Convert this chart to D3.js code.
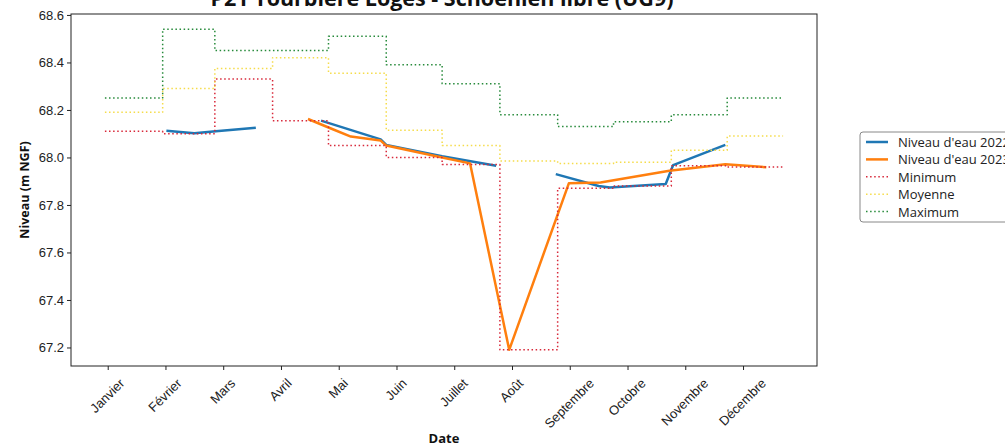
<!DOCTYPE html>
<html>
<head>
<meta charset="utf-8">
<style>
  body { margin: 0; background: #fff; }
  svg { font-family: "Open Sans", "DejaVu Sans", sans-serif; display: block; }
  .axis text { fill: #222; font-size: 13px; }
  .axis path, .axis line { stroke: #222; }
</style>
</head>
<body>
<div id="chart"></div>
<script src="https://cdn.jsdelivr.net/npm/d3@7"></script>
<script>

// month names on the x axis and the day of year each tick sits on
var monthLabels = ["Janvier", "Février", "Mars", "Avril", "Mai", "Juin",
  "Juillet", "Août", "Septembre", "Octobre", "Novembre", "Décembre"];
var tickDays = [2.5, 33.5, 64.5, 95.5, 126.5, 157.5, 188.5, 219.5, 250.5, 281.5, 312.5, 343.5];

// first day of each month (+ end of year) for the monthly statistics
var monthStart = [1, 32, 60, 91, 121, 152, 182, 213, 244, 274, 305, 335, 365];

var minimum = [68.11, 68.10, 68.33, 68.155, 68.05, 68.00, 67.97, 67.19, 67.87, 67.88, 67.965, 67.96];
var moyenne = [68.19, 68.29, 68.375, 68.42, 68.355, 68.115, 68.05, 67.985, 67.975, 67.98, 68.03, 68.09];
var maximum = [68.25, 68.54, 68.45, 68.45, 68.51, 68.39, 68.31, 68.18, 68.13, 68.15, 68.18, 68.25];

// water level readings: day of year, level (null = no data)
var days2022 = [34, 49, 59, 82, 100, 117, 149, 152, 182, 211, 230, 243, 266, 272, 302, 306, 334];
var level2022 = [68.112, 68.102, 68.109, 68.125, null, 68.155, 68.076, 68.053, 68.005, 67.965, null,
  67.93, 67.88, 67.874, 67.888, 67.968, 68.053];

var days2023 = [110, 122, 133, 149, 152, 182, 197, 218, 250, 267, 304, 334, 356];
var level2023 = [68.162, 68.123, 68.088, 68.071, 68.05, 68.0, 67.975, 67.19, 67.891, 67.895,
  67.944, 67.971, 67.959];

var W = 1005, H = 446;
var margin = {top: 14, right: 188, bottom: 80, left: 71},
    width = W - margin.left - margin.right,
    height = H - margin.top - margin.bottom;

var svg = d3.select("#chart").append("svg")
    .attr("width", W)
    .attr("height", H);

var g = svg.append("g")
    .attr("transform", "translate(" + margin.left + "," + margin.top + ")");

var x = d3.scaleLinear().domain([-17.2, 383.2]).range([0, width]);
var y = d3.scaleLinear().domain([67.122, 68.604]).range([height, 0]);

function zip(xs, ys) {
  return xs.map(function(d, i) { return {x: d, y: ys[i]}; });
}

var line = d3.line()
    .defined(function(d) { return d.y != null; })
    .x(function(d) { return x(d.x); })
    .y(function(d) { return y(d.y); });

var stepLine = d3.line()
    .curve(d3.curveStepAfter)
    .x(function(d) { return x(d.x); })
    .y(function(d) { return y(d.y); });

function stepData(vals) {
  var pts = vals.map(function(v, i) { return {x: monthStart[i], y: v}; });
  pts.push({x: monthStart[monthStart.length - 1], y: vals[vals.length - 1]});
  return pts;
}

var series = [
  {name: "Niveau d'eau 2022", color: "#1f77b4", solid: true, data: zip(days2022, level2022)},
  {name: "Niveau d'eau 2023", color: "#ff7f0e", solid: true, data: zip(days2023, level2023)},
  {name: "Minimum", color: "#d8283a", solid: false, data: stepData(minimum)},
  {name: "Moyenne", color: "#f5dc4a", solid: false, data: stepData(moyenne)},
  {name: "Maximum", color: "#268a3a", solid: false, data: stepData(maximum)}
];

series.forEach(function(s) {
  g.append("path")
      .datum(s.data)
      .attr("fill", "none")
      .attr("stroke", s.color)
      .attr("stroke-width", s.solid ? 2.5 : 1.5)
      .attr("stroke-dasharray", s.solid ? null : "1.5,2.6")
      .attr("stroke-linejoin", "round")
      .attr("d", s.solid ? line : stepLine);
});

// frame
g.append("rect")
    .attr("width", width)
    .attr("height", height)
    .attr("fill", "none")
    .attr("stroke", "#222")
    .attr("stroke-width", 1);

g.append("g")
    .attr("class", "axis")
    .call(d3.axisLeft(y).tickValues(d3.range(67.2, 68.61, 0.2)).tickFormat(d3.format(".1f")).tickSizeOuter(0).tickSize(4))
    .call(function(a) { a.select(".domain").remove(); });

var xa = g.append("g")
    .attr("class", "axis")
    .attr("transform", "translate(0," + height + ")")
    .call(d3.axisBottom(x).tickValues(tickDays).tickFormat(function(d, i) { return monthLabels[i]; }).tickSizeOuter(0).tickSize(4));
xa.select(".domain").remove();

xa.selectAll("text").each(function() {
  var t = d3.select(this);
  var len = this.getComputedTextLength();
  var half = (len + 11) * 0.7071 / 2;
  t.attr("y", null).attr("dy", null)
    .attr("text-anchor", "middle")
    .attr("dominant-baseline", "central")
    .attr("transform", "translate(-1," + (11 + half) + ") rotate(-45)");
});

// title (cut off at the top, as in the original)
svg.append("text")
    .attr("x", margin.left + width / 2 - 2)
    .attr("y", 6)
    .attr("text-anchor", "middle")
    .attr("font-size", 21.5)
    .attr("font-weight", "bold")
    .attr("fill", "#111")
    .text("P21 Tourbière Loges - Schoenien libre (UG9)");

svg.append("text")
    .attr("transform", "translate(24," + (margin.top + 176) + ") rotate(-90)")
    .attr("text-anchor", "middle")
    .attr("dominant-baseline", "central")
    .attr("font-size", 12.5)
    .attr("font-weight", "bold")
    .attr("fill", "#111")
    .text("Niveau (m NGF)");

svg.append("text")
    .attr("x", margin.left + width / 2)
    .attr("y", 438)
    .attr("text-anchor", "middle")
    .attr("dominant-baseline", "central")
    .attr("font-size", 13)
    .attr("font-weight", "bold")
    .attr("fill", "#111")
    .text("Date");

// legend
var lg = svg.append("g").attr("transform", "translate(860,132)");
lg.append("rect")
    .attr("width", 160)
    .attr("height", 90)
    .attr("rx", 3)
    .attr("fill", "#fff")
    .attr("stroke", "#888")
    .attr("stroke-width", 1);

series.forEach(function(s, i) {
  var yy = 10 + i * 17.4;
  lg.append("line")
      .attr("x1", 6).attr("x2", 28)
      .attr("y1", yy).attr("y2", yy)
      .attr("stroke", s.color)
      .attr("stroke-width", s.solid ? 2.5 : 1.5)
      .attr("stroke-dasharray", s.solid ? null : "1.5,2.6");
  lg.append("text")
      .attr("x", 38)
      .attr("y", yy)
      .attr("dominant-baseline", "central")
      .attr("font-size", 13)
      .attr("fill", "#222")
      .text(s.name);
});

</script>
</body>
</html>
